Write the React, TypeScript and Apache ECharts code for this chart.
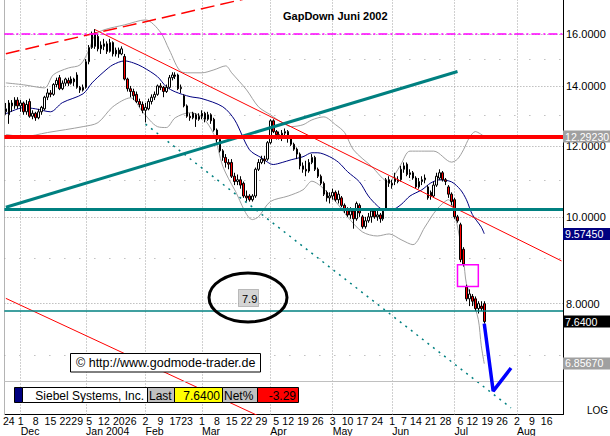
import React, { useEffect, useRef } from 'react';
import * as echarts from 'echarts';

const FONT = '"Liberation Sans", Arial, Helvetica, sans-serif';

// ---- calendar (trading days, US market holidays skipped)
const holidays = ['2003-11-27', '2003-12-25', '2004-01-01', '2004-01-19', '2004-02-16', '2004-04-09', '2004-05-31', '2004-06-11', '2004-07-05'];
const firstDay = '2003-11-21';
const dayCount = 188;

// ---- OHLC candles [open, close, low, high], one per trading day from 2003-11-21
const candles = [
  [13.1, 13.2, 13.0, 13.4], [13.0, 13.4, 12.7, 13.5], [13.4, 13.3, 13.1, 13.5], [13.3, 13.5, 13.2, 13.6], [13.5, 13.3, 13.2, 13.6],
  [13.3, 13.4, 13.1, 13.5], [13.4, 13.1, 13.0, 13.45], [13.1, 13.35, 13.0, 13.5], [13.45, 12.95, 12.9, 13.55], [12.95, 13.05, 12.85, 13.15],
  [13.05, 12.9, 12.8, 13.1], [12.9, 13.1, 12.85, 13.2], [13.1, 13.25, 13.0, 13.3], [13.2, 13.6, 13.15, 13.65], [13.6, 13.75, 13.5, 13.9],
  [13.75, 13.7, 13.6, 13.85], [13.7, 14.05, 13.65, 14.1], [14.05, 14.2, 13.95, 14.3], [14.3, 13.9, 13.85, 14.4], [13.9, 14.1, 13.85, 14.2],
  [14.1, 14.25, 14.0, 14.3], [14.2, 14.1, 14.0, 14.3], [14.1, 14.25, 14.05, 14.35], [14.25, 14.15, 14.0, 14.3], [14.4, 13.95, 13.9, 14.5],
  [13.95, 13.85, 13.75, 14.0], [13.85, 13.95, 13.8, 14.05], [13.95, 14.9, 13.9, 15.0], [14.9, 15.45, 14.8, 15.55], [15.45, 16.0, 15.4, 16.1],
  [16.05, 15.5, 15.4, 16.2], [15.9, 15.4, 15.3, 16.0], [15.4, 15.55, 15.2, 15.7], [15.5, 15.6, 15.35, 15.8], [15.6, 15.3, 15.2, 15.7],
  [15.3, 15.65, 15.25, 15.8], [15.65, 15.2, 15.1, 15.7], [15.2, 15.35, 15.1, 15.45], [15.35, 15.2, 15.05, 15.45], [15.2, 15.4, 15.15, 15.5],
  [15.1, 14.25, 14.2, 15.2], [14.25, 13.9, 13.8, 14.3], [13.9, 13.8, 13.6, 14.0], [13.8, 13.65, 13.5, 13.9], [13.7, 13.45, 13.4, 13.8],
  [13.45, 13.35, 13.25, 13.55], [13.35, 13.15, 13.05, 13.45], [13.15, 13.25, 12.75, 13.4], [13.2, 13.45, 13.15, 13.55], [13.45, 13.6, 13.35, 13.7],
  [13.6, 13.7, 13.5, 13.8], [13.7, 14.0, 13.65, 14.05], [14.0, 13.95, 13.85, 14.1], [13.95, 13.8, 13.6, 14.0], [13.8, 13.95, 13.75, 14.05],
  [13.95, 14.3, 13.9, 14.4], [14.3, 14.4, 14.2, 14.5], [14.4, 14.35, 14.25, 14.5], [14.4, 13.9, 13.85, 14.45], [13.9, 13.95, 13.75, 14.05],
  [13.65, 13.3, 13.25, 13.7], [13.3, 12.95, 12.9, 13.35], [12.95, 12.9, 12.8, 13.05], [12.9, 13.05, 12.85, 13.1], [13.0, 12.85, 12.6, 13.05],
  [12.85, 12.95, 12.8, 13.05], [12.95, 13.05, 12.85, 13.15], [13.05, 12.85, 12.75, 13.1], [12.85, 13.0, 12.8, 13.1], [13.0, 12.8, 12.7, 13.05],
  [12.85, 12.5, 12.45, 12.9], [12.5, 12.2, 12.1, 12.55], [12.2, 11.85, 11.8, 12.25], [11.85, 11.65, 11.55, 11.9], [11.65, 11.5, 11.35, 11.75],
  [11.5, 11.45, 11.3, 11.6], [11.5, 11.1, 11.05, 11.6], [11.1, 10.95, 10.85, 11.2], [10.95, 11.0, 10.85, 11.15], [11.0, 10.85, 10.75, 11.1],
  [10.9, 10.55, 10.5, 10.95], [10.55, 10.5, 10.4, 10.7], [10.55, 10.45, 10.4, 10.6], [10.45, 10.55, 10.4, 10.6], [10.55, 11.3, 10.5, 11.35],
  [11.3, 11.5, 11.25, 11.6], [11.5, 11.6, 11.45, 11.7], [11.6, 11.55, 11.45, 11.7], [11.6, 12.1, 11.55, 12.15], [12.1, 12.8, 12.05, 12.85],
  [12.8, 12.45, 12.4, 12.85], [12.45, 12.35, 12.2, 12.5], [12.35, 12.3, 12.2, 12.45], [12.3, 12.4, 12.15, 12.5], [12.4, 12.45, 12.3, 12.55],
  [12.45, 12.25, 12.1, 12.5], [12.25, 12.05, 12.0, 12.3], [12.05, 11.9, 11.85, 12.1], [11.9, 11.75, 11.6, 11.95], [11.75, 11.4, 11.3, 11.8],
  [11.4, 11.3, 11.2, 11.5], [11.3, 11.25, 11.1, 11.55], [11.25, 11.5, 11.2, 11.6], [11.5, 11.65, 11.45, 11.75], [11.65, 11.3, 11.25, 11.7],
  [11.3, 11.1, 11.05, 11.35], [11.1, 10.9, 10.85, 11.15], [10.9, 10.6, 10.55, 10.95], [10.65, 10.5, 10.4, 10.7], [10.5, 10.55, 10.35, 10.65],
  [10.55, 10.65, 10.45, 10.75], [10.65, 10.45, 10.4, 10.7], [10.45, 10.6, 10.35, 10.7], [10.5, 10.3, 10.25, 10.55], [10.3, 10.2, 10.1, 10.35],
  [10.2, 10.05, 10.0, 10.25], [10.05, 10.15, 9.95, 10.25], [10.15, 9.95, 9.7, 10.2], [9.95, 10.35, 9.9, 10.4], [10.3, 10.1, 10.0, 10.35],
  [10.0, 9.75, 9.7, 10.05], [9.75, 9.9, 9.7, 10.0], [9.9, 10.0, 9.85, 10.1], [10.0, 10.15, 9.85, 10.2], [10.15, 10.0, 9.95, 10.2],
  [10.0, 10.05, 9.9, 10.15], [10.05, 9.95, 9.85, 10.1], [9.95, 10.15, 9.9, 10.2], [10.2, 11.0, 10.15, 11.05], [11.0, 10.9, 10.8, 11.1],
  [10.9, 10.85, 10.75, 11.0], [11.05, 10.95, 10.85, 11.2], [10.95, 11.0, 10.9, 11.1], [11.0, 11.3, 10.95, 11.4], [11.3, 11.4, 11.2, 11.5],
  [11.45, 11.15, 11.1, 11.5], [11.15, 11.2, 11.05, 11.3], [11.2, 11.05, 11.0, 11.25], [11.05, 10.8, 10.75, 11.1], [10.8, 10.95, 10.75, 11.05],
  [10.95, 11.0, 10.85, 11.1], [11.0, 11.05, 10.9, 11.15], [10.8, 10.5, 10.45, 10.85], [10.65, 10.55, 10.45, 10.7], [10.55, 10.85, 10.5, 10.95],
  [10.85, 11.1, 10.8, 11.2], [11.05, 11.2, 11.0, 11.3], [11.2, 11.0, 10.95, 11.25], [11.0, 10.95, 10.85, 11.05], [10.8, 10.6, 10.5, 10.85],
  [10.6, 10.4, 10.3, 10.65], [10.45, 10.0, 9.95, 10.5], [10.0, 9.9, 9.85, 10.05], [9.8, 8.96, 8.9, 9.85], [9.2, 8.86, 8.8, 9.25],
  [8.35, 8.1, 8.05, 8.4], [8.1, 8.2, 7.95, 8.3], [8.15, 8.05, 7.95, 8.2], [8.1, 7.9, 7.85, 8.15], [7.9, 8.0, 7.8, 8.05],
  [7.95, 7.9, 7.85, 8.05], [8.0, 7.64, 7.6, 8.05],
];

// ---- indicators [dayIndex, value]
const movingAverage = [
  [0, 13.03], [6, 13.24], [10, 13.2], [15, 13.1], [19, 13.41], [26, 13.72], [29, 14.11], [33, 14.52], [36, 14.78], [40, 14.93],
  [43, 14.85], [46, 14.7], [51, 14.34], [54, 13.97], [57, 13.79], [62, 13.62], [66, 13.55], [73, 13.27], [77, 12.83], [82, 11.88],
  [86, 11.64], [90, 11.44], [93, 11.5], [96, 11.58], [100, 11.67], [103, 11.79], [105, 11.79], [109, 11.67], [112, 11.5], [115, 11.23],
  [119, 10.94], [122, 10.55], [125, 10.29], [127, 10.19], [130, 10.19], [133, 10.32], [136, 10.55], [140, 10.72], [143, 10.91], [146, 11.0],
  [150, 10.94], [153, 10.72], [155, 10.45], [157, 10.06], [160, 9.74], [161, 9.5745],
];
const upperBand = [
  [0, 14.11], [6, 14.04], [13, 13.93], [16, 14.41], [21, 14.66], [25, 14.78], [28, 15.36], [30, 15.96], [33, 16.17], [40, 16.38],
  [47, 16.59], [52, 16.08], [55, 15.36], [59, 14.52], [62, 14.48], [66, 14.48], [70, 14.59], [74, 14.74], [76, 14.48], [81, 13.86],
  [85, 13.27], [89, 13.0], [93, 12.74], [96, 12.61], [100, 12.67], [103, 12.83], [107, 12.93], [111, 12.67], [114, 12.42], [117, 11.88],
  [123, 11.39], [129, 10.93], [131, 11.16], [133, 11.45], [136, 11.84], [144, 11.84], [150, 11.51], [152, 11.6], [154, 11.88], [156, 12.26],
  [158, 12.45], [161, 12.2923],
];
const lowerBand = [
  [0, 12.36], [6, 12.29], [14, 12.42], [26, 12.61], [31, 12.74], [36, 13.27], [42, 13.58], [46, 13.1], [51, 12.61], [54, 12.58],
  [57, 12.9], [62, 13.07], [66, 12.93], [70, 12.36], [73, 11.39], [77, 10.72], [83, 9.93], [85, 10.0], [89, 10.4], [95, 10.55],
  [100, 10.72], [103, 10.96], [106, 10.82], [111, 10.4], [115, 10.0], [120, 9.62], [125, 9.52], [129, 9.57], [133, 9.43], [137, 9.31],
  [141, 9.74], [145, 10.19], [149, 10.45], [151, 10.09], [154, 8.96], [155, 8.42], [157, 8.08], [159, 7.68], [160, 7.18], [161, 6.8567],
];

// ---- drawn trend lines [dayIndex, price]
const resistanceDashed = [[0, 15.21], [100, 18.12]];
const downTrend = [[30, 16.18], [187, 8.93]];
const upTrend = [[0, 10.25], [152, 14.53]];
const supportDotted = [[47, 12.69], [170, 6.12]];
const lowerChannel = [[0, 8.11], [90, 5.89]];
const projection = [[161, 7.6], [164, 6.39], [170, 6.78]];
const gapBox = [[152, 8.84], [159, 8.36]];

// ---- horizontal levels
const magentaLevel = 16;
const redLevel = 12.2923;
const tealLevel = 10.21;
const tealThinLevel = 7.86;
const grayLevel = 6.55;
const majorTicks = [16, 14, 12, 10, 8];
const minorTicks = [15, 13, 11, 9, 7];
const yMin = 6.017;
const yMax = 17.46;

// ---- value labels
const lastPrice = '7.6400';
const netPct = '-3.29';
const maLast = 9.5745;
const upperLast = 12.2923;
const lowerLast = 6.8567;
const lastClose = 7.64;

function tradingDays(): string[] {
  const out: string[] = [];
  const d = new Date(firstDay + 'T00:00:00Z');
  while (out.length < dayCount) {
    const wd = d.getUTCDay();
    const s = d.toISOString().slice(0, 10);
    if (wd !== 0 && wd !== 6 && holidays.indexOf(s) < 0) out.push(s);
    d.setUTCDate(d.getUTCDate() + 1);
  }
  return out;
}

const monthShort = ['Jan', 'Feb', 'Mar', 'Apr', 'May', 'Jun', 'Jul', 'Aug', 'Sep', 'Oct', 'Nov', 'Dec'];

export default function App() {
  const ref = useRef<HTMLDivElement>(null);
  useEffect(() => {
    if (!ref.current) return;
    const chart = echarts.init(ref.current, undefined, { renderer: 'svg' });
    const dates = tradingDays();
    const weekOf = (s: string) => Math.floor((Date.parse(s + 'T00:00:00Z') / 86400000 + 3) / 7);
    const weekStart = dates.map((s, i) => i > 0 && i < dayCount - 3 && weekOf(s) !== weekOf(dates[i - 1]));
    const monthStart = dates.map((s, i) => i > 0 && s.slice(5, 7) !== dates[i - 1].slice(5, 7));
    const monthDates = dates.filter((_, i) => monthStart[i]);

    const box = (text: string, bg: string) => ({
      show: true, position: 'end', distance: 0, formatter: text, color: '#fff', backgroundColor: bg,
      padding: [1, 0, 1, 2], fontSize: 10.6, fontFamily: FONT, lineHeight: 10, width: 45, align: 'left',
    });
    const hidden = { color: 'rgba(0,0,0,0)', width: 1, type: 'solid' };

    const trend = (data: number[][], color: string, width: number, type: any, z: number, smooth = false) => ({
      type: 'line', data, symbol: 'none', smooth, z, silent: true, clip: true,
      lineStyle: { color, width, type }, xAxisIndex: 0, yAxisIndex: 0,
    });

    const gridLines = [
      ...majorTicks.map((v) => ({
        yAxis: v, lineStyle: { color: '#a0a0a0', width: 1, type: [1, 2] },
        label: { show: true, position: 'end', distance: 3, formatter: v.toFixed(4), color: '#000', fontSize: 11, fontFamily: FONT, lineHeight: 8, padding: [1, 0, 0, 0] },
      })),
      ...minorTicks.map((v) => ({ yAxis: v, lineStyle: { color: '#a0a0a0', width: 1, type: [1, 14] }, label: { show: false } })),
      ...monthDates.map((d) => ({ xAxis: d, lineStyle: { color: '#a0a0a0', width: 1, type: [1, 2] }, label: { show: false } })),
    ];

    const overlayLines = [
      { yAxis: magentaLevel, lineStyle: { color: '#ff00ff', width: 1.5, type: [9, 3, 2, 3] }, label: { show: false } },
      { yAxis: tealLevel, lineStyle: { color: '#008080', width: 3, type: 'solid' }, label: { show: false } },
      { yAxis: tealThinLevel, lineStyle: { color: '#008080', width: 1.5, type: 'solid' }, label: { show: false } },
      { yAxis: grayLevel, lineStyle: { color: '#c0c0c0', width: 1, type: 'solid' }, label: { show: false } },
      { yAxis: redLevel, lineStyle: { color: '#ff0000', width: 4, type: 'solid' }, label: box(upperLast.toFixed(5), '#a0a0a0') },
      { yAxis: maLast, lineStyle: hidden, label: box(maLast.toFixed(5), '#000080') },
      { yAxis: lastClose, lineStyle: hidden, label: box(lastPrice, '#000000') },
      { yAxis: lowerLast, lineStyle: hidden, label: box(lowerLast.toFixed(5), '#a0a0a0') },
    ];

    const t = (x: number, y: number, text: string, font: string, extra: any = {}) => ({
      type: 'text', x, y, z: 101, silent: true,
      style: { text, font, fill: '#000', align: 'left', verticalAlign: 'middle', ...extra },
    });
    const r = (x: number, y: number, w: number, h: number, fill: string, extra: any = {}) => ({
      type: 'rect', shape: { x, y, width: w, height: h }, z: 100, silent: true,
      style: { fill, stroke: '#000', lineWidth: 1, ...extra },
    });
    const f12 = `12px ${FONT}`;

    chart.setOption({
      animation: false,
      backgroundColor: '#ffffff',
      grid: { left: 0, right: 47, top: 0, bottom: 21, containLabel: false },
      xAxis: [
        {
          type: 'category', data: dates, boundaryGap: true,
          axisLine: { show: true, onZero: false, lineStyle: { color: '#000', width: 1 } },
          axisTick: { show: false }, splitLine: { show: false },
          axisLabel: {
            interval: (i: number) => weekStart[i], formatter: (v: string) => String(Number(v.slice(8, 10))),
            color: '#000', fontSize: 10.5, fontFamily: FONT, margin: 2, lineHeight: 8,
          },
        },
        {
          type: 'category', data: dates, boundaryGap: true, position: 'bottom', gridIndex: 0,
          axisLine: { show: false, onZero: false }, axisTick: { show: false }, splitLine: { show: false },
          axisLabel: {
            interval: (i: number) => monthStart[i],
            formatter: (v: string) => { const m = Number(v.slice(5, 7)); return m === 1 ? `Jan ${v.slice(0, 4)}` : monthShort[m - 1]; },
            align: 'left', color: '#000', fontSize: 10.5, fontFamily: FONT, margin: 12, lineHeight: 8,
          },
        },
      ],
      yAxis: {
        type: 'log', logBase: 10, position: 'right', min: yMin, max: yMax,
        axisLine: { show: true, onZero: false, lineStyle: { color: '#000', width: 1 } },
        axisTick: { show: false }, axisLabel: { show: false }, splitLine: { show: false }, minorSplitLine: { show: false },
      },
      series: [
        {
          type: 'line', name: 'upperBand', data: upperBand, symbol: 'none', smooth: 0.3, z: 2, silent: true,
          lineStyle: { color: '#a0a0a0', width: 1 },
          markLine: { z: 1, silent: true, symbol: ['none', 'none'], animation: false, data: gridLines },
        },
        { type: 'line', name: 'lowerBand', data: lowerBand, symbol: 'none', smooth: 0.3, z: 2, silent: true, lineStyle: { color: '#a0a0a0', width: 1 } },
        { type: 'line', name: 'ma', data: movingAverage, symbol: 'none', smooth: 0.3, z: 2, silent: true, lineStyle: { color: '#000080', width: 1 } },
        {
          type: 'candlestick', name: 'Siebel', data: candles, barWidth: 2, z: 3, silent: true,
          itemStyle: { color: '#ffffff', color0: '#ff0000', borderColor: '#000000', borderColor0: '#000000', borderWidth: 1 },
          markLine: { z: 5, silent: true, symbol: ['none', 'none'], animation: false, data: overlayLines },
          markArea: {
            silent: true, z: 5,
            itemStyle: { color: 'rgba(0,0,0,0)', borderColor: '#ff00ff', borderWidth: 1.5 },
            data: [[{ coord: gapBox[0] }, { coord: gapBox[1] }]],
          },
        },
        trend(resistanceDashed, '#ff0000', 1.5, [14, 6], 4),
        trend(downTrend, '#ff0000', 1, 'solid', 4),
        trend(upTrend, '#008080', 3, 'solid', 4),
        trend(supportDotted, '#008080', 1.5, [2, 5], 4),
        trend(lowerChannel, '#ff0000', 1, 'solid', 4),
        trend(projection, '#0000ff', 3.5, 'solid', 6),
      ],
      graphic: [
        { type: 'line', shape: { x1: 4.5, y1: 0, x2: 4.5, y2: 415 }, style: { stroke: '#b4b4b4', lineWidth: 1 }, z: 1, silent: true },
        t(283, 16, 'GapDown Juni 2002', `bold 11px ${FONT}`),
        { type: 'ellipse', shape: { cx: 248, cy: 297.5, rx: 39, ry: 24.5 }, style: { fill: 'none', stroke: '#000', lineWidth: 3 }, z: 100, silent: true },
        r(238.5, 289.5, 20, 17, '#d4d4d4', { stroke: '#888', lineDash: [1, 1] }),
        t(242, 298.5, '7.9', `11px ${FONT}`),
        r(70.5, 353.5, 190, 18.5, '#ffffff'),
        t(76, 363, '© http://www.godmode-trader.de', `12.5px ${FONT}`),
        r(14.5, 387.5, 8, 15, '#000080'),
        r(22.5, 387.5, 125, 15, '#ffffff'),
        r(147.5, 387.5, 27, 15, '#c0c0c0'),
        r(174.5, 387.5, 48, 15, '#ffff00'),
        r(222.5, 387.5, 35, 15, '#c0c0c0'),
        r(257.5, 387.5, 41, 15, '#ff0000'),
        t(144, 395.5, 'Siebel Systems, Inc.', f12, { align: 'right' }),
        t(149, 395.5, 'Last', f12),
        t(220, 395.5, lastPrice, f12, { align: 'right' }),
        t(224, 395.5, 'Net%', f12),
        t(296, 395.5, netPct, f12, { align: 'right' }),
        t(587, 410, 'LOG', `10px ${FONT}`),
      ],
    });
    return () => chart.dispose();
  }, []);
  return <div ref={ref} style={{ position: 'fixed', left: 0, top: 0, width: 610, height: 436, background: '#fff' }} />;
}
